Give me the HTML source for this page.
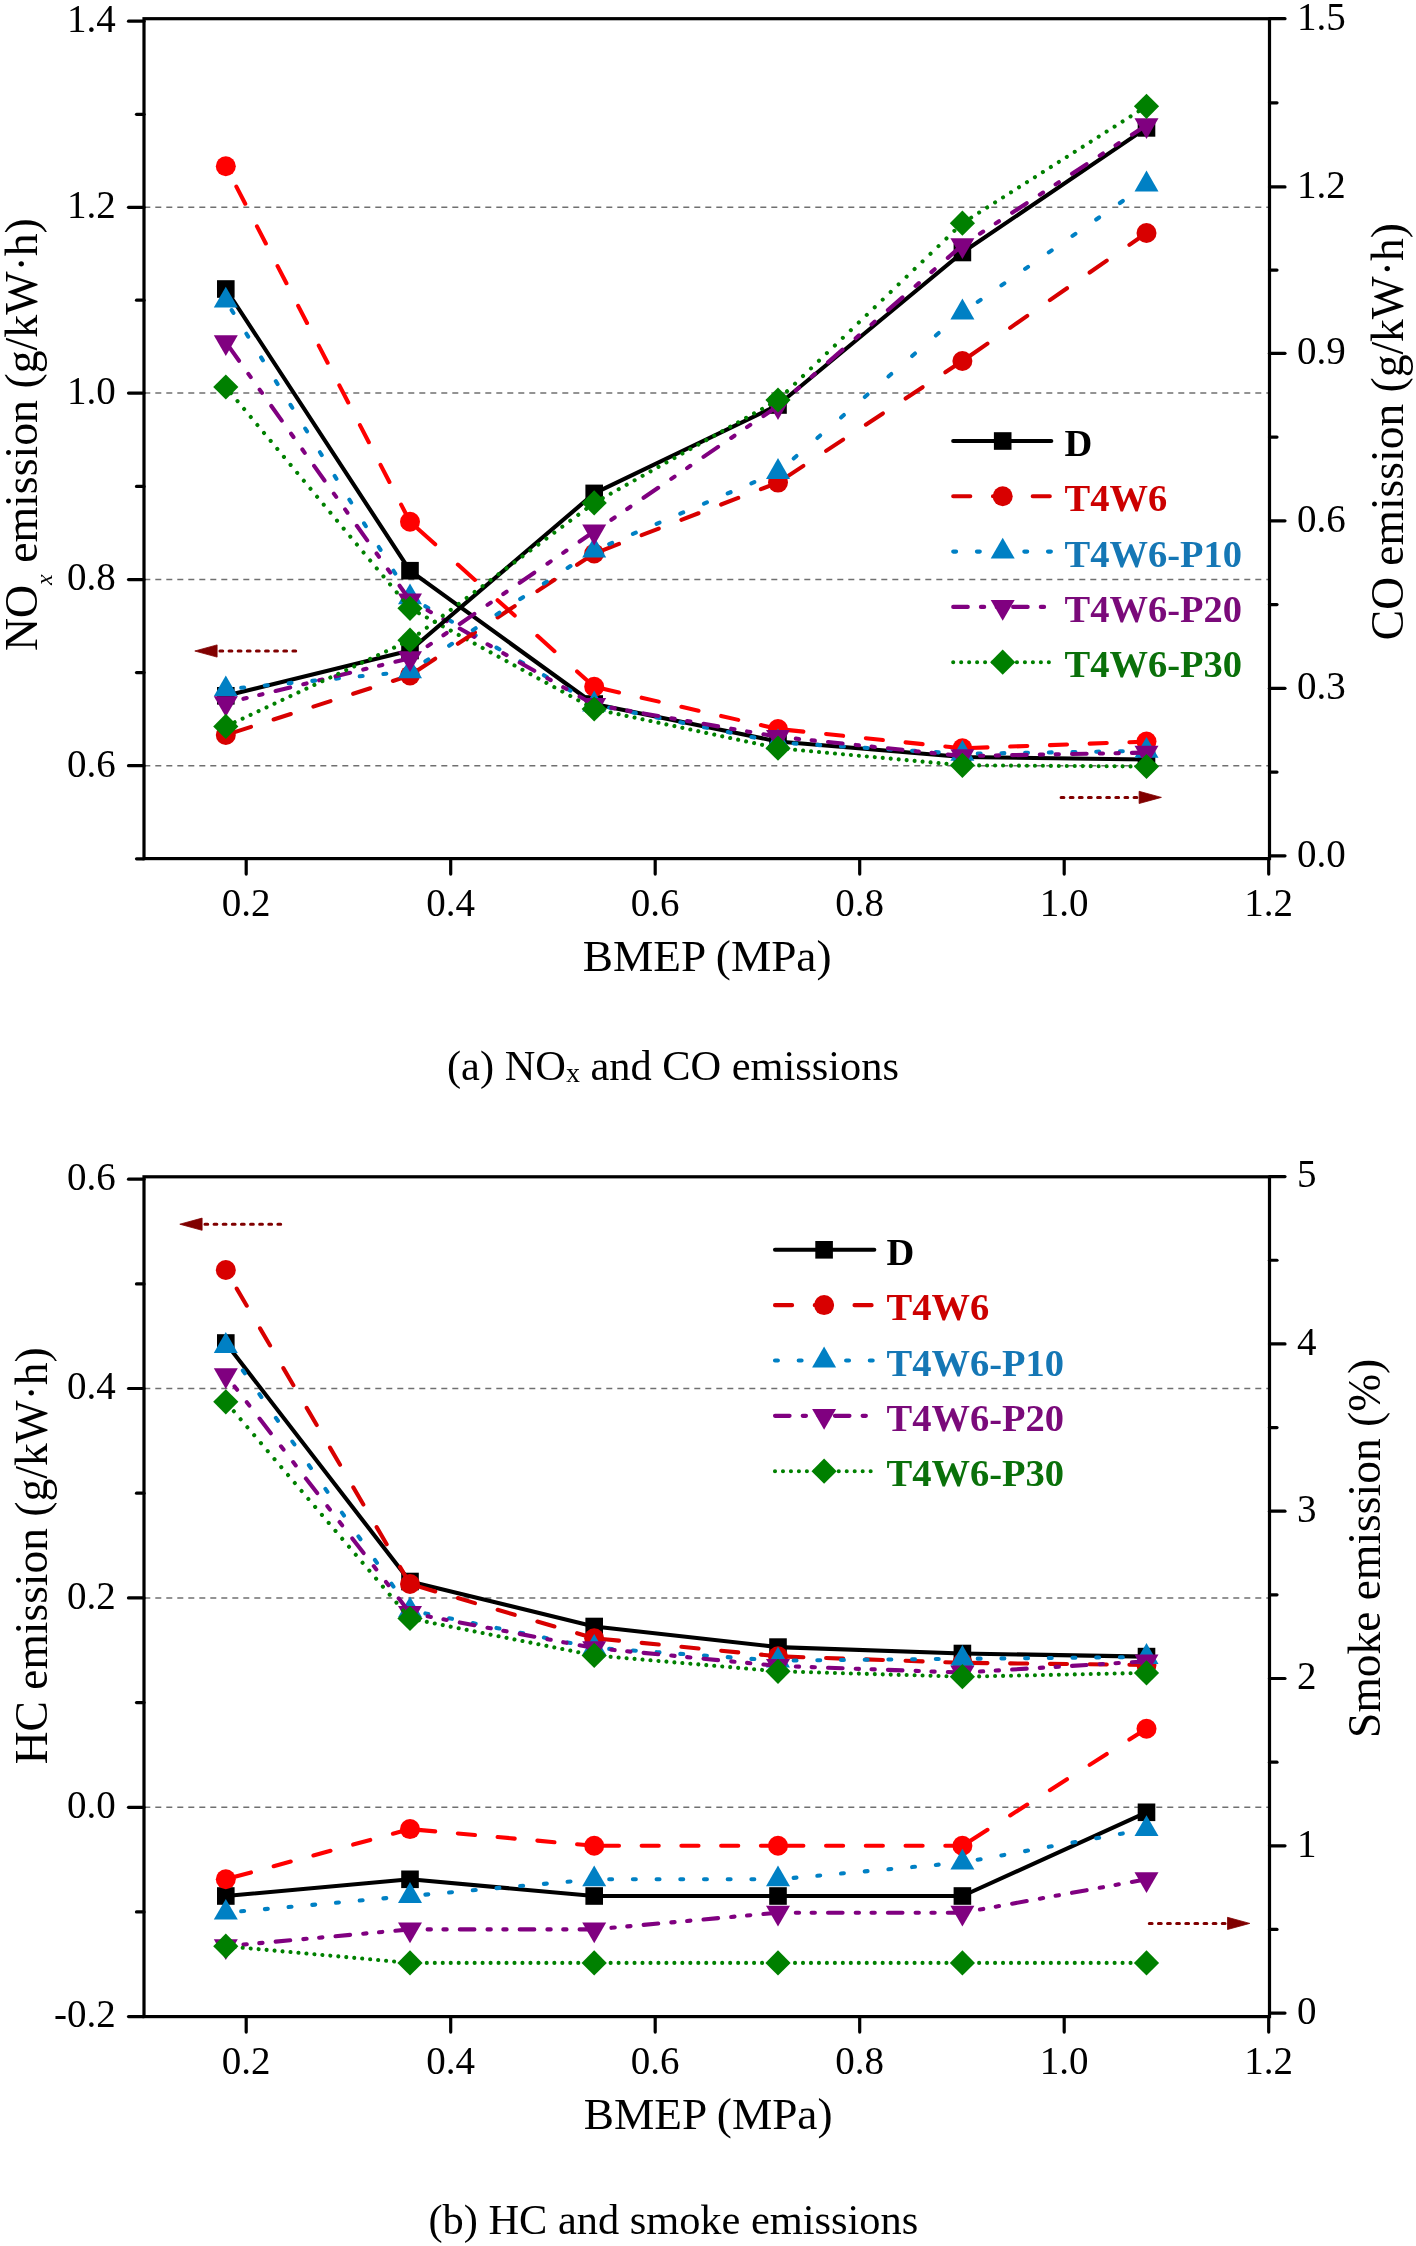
<!DOCTYPE html><html><head><meta charset="utf-8"><style>html,body{margin:0;padding:0;background:#fff;overflow:hidden;}svg{display:block;will-change:transform;}text{font-family:"Liberation Serif",serif;}</style></head><body>
<svg width="1416" height="2246" viewBox="0 0 1416 2246">
<rect width="1416" height="2246" fill="#fff"/>
<line x1="144.3" y1="207.3" x2="1268.0" y2="207.3" stroke="#707070" stroke-width="1.5" stroke-dasharray="6 5"/>
<line x1="144.3" y1="393.1" x2="1268.0" y2="393.1" stroke="#707070" stroke-width="1.5" stroke-dasharray="6 5"/>
<line x1="144.3" y1="579.6" x2="1268.0" y2="579.6" stroke="#707070" stroke-width="1.5" stroke-dasharray="6 5"/>
<line x1="144.3" y1="765.7" x2="1268.0" y2="765.7" stroke="#707070" stroke-width="1.5" stroke-dasharray="6 5"/>
<polyline points="225.8,289.0 410.0,570.7 594.2,704.0 778.0,741.5 962.4,757.0 1146.5,759.5" fill="none" stroke="#000000" stroke-width="4.1" stroke-linejoin="round" stroke-linecap="round"/><rect x="217.0" y="280.2" width="17.6" height="17.6" fill="#000000"/><rect x="401.2" y="561.9" width="17.6" height="17.6" fill="#000000"/><rect x="585.4" y="695.2" width="17.6" height="17.6" fill="#000000"/><rect x="769.2" y="732.7" width="17.6" height="17.6" fill="#000000"/><rect x="953.6" y="748.2" width="17.6" height="17.6" fill="#000000"/><rect x="1137.7" y="750.7" width="17.6" height="17.6" fill="#000000"/>
<line x1="410.0" y1="521.7" x2="225.8" y2="166.2" stroke="#ff0000" stroke-width="4.1" stroke-linecap="round" stroke-dasharray="19.26 25.51"/><line x1="594.2" y1="686.8" x2="410.0" y2="521.7" stroke="#ff0000" stroke-width="4.1" stroke-linecap="round" stroke-dasharray="22.96 30.42"/><line x1="778.0" y1="729.0" x2="594.2" y2="686.8" stroke="#ff0000" stroke-width="4.1" stroke-linecap="round" stroke-dasharray="17.54 23.24"/><line x1="962.4" y1="748.3" x2="778.0" y2="729.0" stroke="#ff0000" stroke-width="4.1" stroke-linecap="round" stroke-dasharray="17.19 22.77"/><line x1="1146.5" y1="741.6" x2="962.4" y2="748.3" stroke="#ff0000" stroke-width="4.1" stroke-linecap="round" stroke-dasharray="17.11 22.66"/><circle cx="225.8" cy="166.2" r="10.0" fill="#ff0000"/><circle cx="410.0" cy="521.7" r="10.0" fill="#ff0000"/><circle cx="594.2" cy="686.8" r="10.0" fill="#ff0000"/><circle cx="778.0" cy="729.0" r="10.0" fill="#ff0000"/><circle cx="962.4" cy="748.3" r="10.0" fill="#ff0000"/><circle cx="1146.5" cy="741.6" r="10.0" fill="#ff0000"/>
<line x1="410.0" y1="597.3" x2="225.8" y2="300.6" stroke="#0080c4" stroke-width="4.1" stroke-linecap="round" stroke-dasharray="3.41 24.48"/><line x1="594.2" y1="704.5" x2="410.0" y2="597.3" stroke="#0080c4" stroke-width="4.1" stroke-linecap="round" stroke-dasharray="3.36 24.07"/><line x1="778.0" y1="742.5" x2="594.2" y2="704.5" stroke="#0080c4" stroke-width="4.1" stroke-linecap="round" stroke-dasharray="2.96 21.24"/><line x1="962.4" y1="753.8" x2="778.0" y2="742.5" stroke="#0080c4" stroke-width="4.1" stroke-linecap="round" stroke-dasharray="2.91 20.84"/><line x1="1146.5" y1="750.9" x2="962.4" y2="753.8" stroke="#0080c4" stroke-width="4.1" stroke-linecap="round" stroke-dasharray="2.90 20.80"/><path d="M225.8 286.7L237.8 307.5L213.8 307.5Z" fill="#0080c4"/><path d="M410.0 583.4L422.0 604.2L398.0 604.2Z" fill="#0080c4"/><path d="M594.2 690.6L606.2 711.4L582.2 711.4Z" fill="#0080c4"/><path d="M778.0 728.6L790.0 749.4L766.0 749.4Z" fill="#0080c4"/><path d="M962.4 739.9L974.4 760.7L950.4 760.7Z" fill="#0080c4"/><path d="M1146.5 737.0L1158.5 757.8L1134.5 757.8Z" fill="#0080c4"/>
<line x1="410.0" y1="600.3" x2="225.8" y2="342.2" stroke="#800080" stroke-width="4.1" stroke-linecap="round" stroke-dasharray="17.94 16.09 4.05 15.36 4.05 16.09"/><line x1="594.2" y1="704.8" x2="410.0" y2="600.3" stroke="#800080" stroke-width="4.1" stroke-linecap="round" stroke-dasharray="16.79 15.06 3.79 14.37 3.79 15.06"/><line x1="778.0" y1="736.8" x2="594.2" y2="704.8" stroke="#800080" stroke-width="4.1" stroke-linecap="round" stroke-dasharray="14.82 13.30 3.35 12.69 3.35 13.30"/><line x1="962.4" y1="756.1" x2="778.0" y2="736.8" stroke="#800080" stroke-width="4.1" stroke-linecap="round" stroke-dasharray="14.68 13.17 3.32 12.57 3.32 13.17"/><line x1="1146.5" y1="752.6" x2="962.4" y2="756.1" stroke="#800080" stroke-width="4.1" stroke-linecap="round" stroke-dasharray="14.60 13.10 3.30 12.50 3.30 13.10"/><path d="M225.8 356.1L237.8 335.3L213.8 335.3Z" fill="#800080"/><path d="M410.0 614.2L422.0 593.4L398.0 593.4Z" fill="#800080"/><path d="M594.2 718.7L606.2 697.9L582.2 697.9Z" fill="#800080"/><path d="M778.0 750.7L790.0 729.9L766.0 729.9Z" fill="#800080"/><path d="M962.4 770.0L974.4 749.2L950.4 749.2Z" fill="#800080"/><path d="M1146.5 766.5L1158.5 745.7L1134.5 745.7Z" fill="#800080"/>
<line x1="410.0" y1="608.3" x2="225.8" y2="387.0" stroke="#008000" stroke-width="4.1" stroke-linecap="round" stroke-dasharray="0.01 10.36"/><line x1="594.2" y1="709.0" x2="410.0" y2="608.3" stroke="#008000" stroke-width="4.1" stroke-linecap="round" stroke-dasharray="0.01 9.07"/><line x1="778.0" y1="748.2" x2="594.2" y2="709.0" stroke="#008000" stroke-width="4.1" stroke-linecap="round" stroke-dasharray="0.01 8.14"/><line x1="962.4" y1="765.3" x2="778.0" y2="748.2" stroke="#008000" stroke-width="4.1" stroke-linecap="round" stroke-dasharray="0.01 7.99"/><line x1="1146.5" y1="766.5" x2="962.4" y2="765.3" stroke="#008000" stroke-width="4.1" stroke-linecap="round" stroke-dasharray="0.01 7.96"/><path d="M225.8 374.4L238.4 387.0L225.8 399.6L213.2 387.0Z" fill="#008000"/><path d="M410.0 595.7L422.6 608.3L410.0 620.9L397.4 608.3Z" fill="#008000"/><path d="M594.2 696.4L606.8 709.0L594.2 721.6L581.6 709.0Z" fill="#008000"/><path d="M778.0 735.6L790.6 748.2L778.0 760.8L765.4 748.2Z" fill="#008000"/><path d="M962.4 752.7L975.0 765.3L962.4 777.9L949.8 765.3Z" fill="#008000"/><path d="M1146.5 753.9L1159.1 766.5L1146.5 779.1L1133.9 766.5Z" fill="#008000"/>
<polyline points="225.8,695.8 410.0,650.5 594.2,493.4 778.0,405.0 962.4,252.5 1146.5,127.9" fill="none" stroke="#000000" stroke-width="4.1" stroke-linejoin="round" stroke-linecap="round"/><rect x="217.0" y="687.0" width="17.6" height="17.6" fill="#000000"/><rect x="401.2" y="641.7" width="17.6" height="17.6" fill="#000000"/><rect x="585.4" y="484.6" width="17.6" height="17.6" fill="#000000"/><rect x="769.2" y="396.2" width="17.6" height="17.6" fill="#000000"/><rect x="953.6" y="243.7" width="17.6" height="17.6" fill="#000000"/><rect x="1137.7" y="119.1" width="17.6" height="17.6" fill="#000000"/>
<line x1="410.0" y1="675.4" x2="225.8" y2="735.0" stroke="#d80000" stroke-width="4.1" stroke-linecap="round" stroke-dasharray="17.97 23.81"/><line x1="594.2" y1="553.5" x2="410.0" y2="675.4" stroke="#d80000" stroke-width="4.1" stroke-linecap="round" stroke-dasharray="20.51 27.16"/><line x1="778.0" y1="482.6" x2="594.2" y2="553.5" stroke="#d80000" stroke-width="4.1" stroke-linecap="round" stroke-dasharray="18.33 24.28"/><line x1="962.4" y1="361.0" x2="778.0" y2="482.6" stroke="#d80000" stroke-width="4.1" stroke-linecap="round" stroke-dasharray="20.48 27.13"/><line x1="1146.5" y1="233.0" x2="962.4" y2="361.0" stroke="#d80000" stroke-width="4.1" stroke-linecap="round" stroke-dasharray="20.83 27.59"/><circle cx="225.8" cy="735.0" r="10.0" fill="#d80000"/><circle cx="410.0" cy="675.4" r="10.0" fill="#d80000"/><circle cx="594.2" cy="553.5" r="10.0" fill="#d80000"/><circle cx="778.0" cy="482.6" r="10.0" fill="#d80000"/><circle cx="962.4" cy="361.0" r="10.0" fill="#d80000"/><circle cx="1146.5" cy="233.0" r="10.0" fill="#d80000"/>
<line x1="410.0" y1="671.4" x2="225.8" y2="689.3" stroke="#0080c4" stroke-width="4.1" stroke-linecap="round" stroke-dasharray="2.91 20.90"/><line x1="594.2" y1="550.5" x2="410.0" y2="671.4" stroke="#0080c4" stroke-width="4.1" stroke-linecap="round" stroke-dasharray="3.47 24.88"/><line x1="778.0" y1="472.0" x2="594.2" y2="550.5" stroke="#0080c4" stroke-width="4.1" stroke-linecap="round" stroke-dasharray="3.15 22.62"/><line x1="962.4" y1="312.5" x2="778.0" y2="472.0" stroke="#0080c4" stroke-width="4.1" stroke-linecap="round" stroke-dasharray="3.83 27.50"/><line x1="1146.5" y1="184.5" x2="962.4" y2="312.5" stroke="#0080c4" stroke-width="4.1" stroke-linecap="round" stroke-dasharray="3.53 25.33"/><path d="M225.8 675.4L237.8 696.2L213.8 696.2Z" fill="#0080c4"/><path d="M410.0 657.5L422.0 678.3L398.0 678.3Z" fill="#0080c4"/><path d="M594.2 536.6L606.2 557.4L582.2 557.4Z" fill="#0080c4"/><path d="M778.0 458.1L790.0 478.9L766.0 478.9Z" fill="#0080c4"/><path d="M962.4 298.6L974.4 319.4L950.4 319.4Z" fill="#0080c4"/><path d="M1146.5 170.6L1158.5 191.4L1134.5 191.4Z" fill="#0080c4"/>
<line x1="410.0" y1="658.2" x2="225.8" y2="703.1" stroke="#800080" stroke-width="4.1" stroke-linecap="round" stroke-dasharray="15.03 13.48 3.40 12.87 3.40 13.48"/><line x1="594.2" y1="531.5" x2="410.0" y2="658.2" stroke="#800080" stroke-width="4.1" stroke-linecap="round" stroke-dasharray="17.72 15.90 4.01 15.17 4.01 15.90"/><line x1="778.0" y1="406.0" x2="594.2" y2="531.5" stroke="#800080" stroke-width="4.1" stroke-linecap="round" stroke-dasharray="17.68 15.86 4.00 15.14 4.00 15.86"/><line x1="962.4" y1="245.1" x2="778.0" y2="406.0" stroke="#800080" stroke-width="4.1" stroke-linecap="round" stroke-dasharray="19.38 17.39 4.38 16.59 4.38 17.39"/><line x1="1146.5" y1="125.2" x2="962.4" y2="245.1" stroke="#800080" stroke-width="4.1" stroke-linecap="round" stroke-dasharray="17.42 15.63 3.94 14.92 3.94 15.63"/><path d="M225.8 717.0L237.8 696.2L213.8 696.2Z" fill="#800080"/><path d="M410.0 672.1L422.0 651.3L398.0 651.3Z" fill="#800080"/><path d="M594.2 545.4L606.2 524.6L582.2 524.6Z" fill="#800080"/><path d="M778.0 419.9L790.0 399.1L766.0 399.1Z" fill="#800080"/><path d="M962.4 259.0L974.4 238.2L950.4 238.2Z" fill="#800080"/><path d="M1146.5 139.1L1158.5 118.3L1134.5 118.3Z" fill="#800080"/>
<line x1="410.0" y1="640.2" x2="225.8" y2="726.4" stroke="#008000" stroke-width="4.1" stroke-linecap="round" stroke-dasharray="0.01 8.79"/><line x1="594.2" y1="502.9" x2="410.0" y2="640.2" stroke="#008000" stroke-width="4.1" stroke-linecap="round" stroke-dasharray="0.01 9.93"/><line x1="778.0" y1="400.0" x2="594.2" y2="502.9" stroke="#008000" stroke-width="4.1" stroke-linecap="round" stroke-dasharray="0.01 9.12"/><line x1="962.4" y1="223.2" x2="778.0" y2="400.0" stroke="#008000" stroke-width="4.1" stroke-linecap="round" stroke-dasharray="0.01 11.03"/><line x1="1146.5" y1="106.3" x2="962.4" y2="223.2" stroke="#008000" stroke-width="4.1" stroke-linecap="round" stroke-dasharray="0.01 9.43"/><path d="M225.8 713.8L238.4 726.4L225.8 739.0L213.2 726.4Z" fill="#008000"/><path d="M410.0 627.6L422.6 640.2L410.0 652.8L397.4 640.2Z" fill="#008000"/><path d="M594.2 490.3L606.8 502.9L594.2 515.5L581.6 502.9Z" fill="#008000"/><path d="M778.0 387.4L790.6 400.0L778.0 412.6L765.4 400.0Z" fill="#008000"/><path d="M962.4 210.6L975.0 223.2L962.4 235.8L949.8 223.2Z" fill="#008000"/><path d="M1146.5 93.7L1159.1 106.3L1146.5 118.9L1133.9 106.3Z" fill="#008000"/>
<rect x="144.0" y="18.7" width="1125.5" height="839.9" fill="none" stroke="#000" stroke-width="3.2"/><line x1="144.0" y1="21.2" x2="128.5" y2="21.2" stroke="#000" stroke-width="3.2" stroke-linecap="round"/><line x1="144.0" y1="207.3" x2="128.5" y2="207.3" stroke="#000" stroke-width="3.2" stroke-linecap="round"/><line x1="144.0" y1="393.1" x2="128.5" y2="393.1" stroke="#000" stroke-width="3.2" stroke-linecap="round"/><line x1="144.0" y1="579.6" x2="128.5" y2="579.6" stroke="#000" stroke-width="3.2" stroke-linecap="round"/><line x1="144.0" y1="765.7" x2="128.5" y2="765.7" stroke="#000" stroke-width="3.2" stroke-linecap="round"/><line x1="144.0" y1="114.3" x2="136.5" y2="114.3" stroke="#000" stroke-width="3.2" stroke-linecap="round"/><line x1="144.0" y1="300.2" x2="136.5" y2="300.2" stroke="#000" stroke-width="3.2" stroke-linecap="round"/><line x1="144.0" y1="486.4" x2="136.5" y2="486.4" stroke="#000" stroke-width="3.2" stroke-linecap="round"/><line x1="144.0" y1="672.6" x2="136.5" y2="672.6" stroke="#000" stroke-width="3.2" stroke-linecap="round"/><line x1="144.0" y1="858.8" x2="136.5" y2="858.8" stroke="#000" stroke-width="3.2" stroke-linecap="round"/><line x1="1269.5" y1="18.7" x2="1285.0" y2="18.7" stroke="#000" stroke-width="3.2" stroke-linecap="round"/><line x1="1269.5" y1="186.9" x2="1285.0" y2="186.9" stroke="#000" stroke-width="3.2" stroke-linecap="round"/><line x1="1269.5" y1="353.3" x2="1285.0" y2="353.3" stroke="#000" stroke-width="3.2" stroke-linecap="round"/><line x1="1269.5" y1="520.8" x2="1285.0" y2="520.8" stroke="#000" stroke-width="3.2" stroke-linecap="round"/><line x1="1269.5" y1="688.3" x2="1285.0" y2="688.3" stroke="#000" stroke-width="3.2" stroke-linecap="round"/><line x1="1269.5" y1="855.8" x2="1285.0" y2="855.8" stroke="#000" stroke-width="3.2" stroke-linecap="round"/><line x1="1269.5" y1="102.8" x2="1277.0" y2="102.8" stroke="#000" stroke-width="3.2" stroke-linecap="round"/><line x1="1269.5" y1="270.1" x2="1277.0" y2="270.1" stroke="#000" stroke-width="3.2" stroke-linecap="round"/><line x1="1269.5" y1="437.1" x2="1277.0" y2="437.1" stroke="#000" stroke-width="3.2" stroke-linecap="round"/><line x1="1269.5" y1="604.6" x2="1277.0" y2="604.6" stroke="#000" stroke-width="3.2" stroke-linecap="round"/><line x1="1269.5" y1="772.1" x2="1277.0" y2="772.1" stroke="#000" stroke-width="3.2" stroke-linecap="round"/><line x1="246.2" y1="858.6" x2="246.2" y2="874.1" stroke="#000" stroke-width="3.2" stroke-linecap="round"/><line x1="450.7" y1="858.6" x2="450.7" y2="874.1" stroke="#000" stroke-width="3.2" stroke-linecap="round"/><line x1="655.2" y1="858.6" x2="655.2" y2="874.1" stroke="#000" stroke-width="3.2" stroke-linecap="round"/><line x1="859.7" y1="858.6" x2="859.7" y2="874.1" stroke="#000" stroke-width="3.2" stroke-linecap="round"/><line x1="1064.2" y1="858.6" x2="1064.2" y2="874.1" stroke="#000" stroke-width="3.2" stroke-linecap="round"/><line x1="1268.7" y1="858.6" x2="1268.7" y2="874.1" stroke="#000" stroke-width="3.2" stroke-linecap="round"/>
<text x="115.8" y="32.0" font-size="39" text-anchor="end">1.4</text>
<text x="115.8" y="218.1" font-size="39" text-anchor="end">1.2</text>
<text x="115.8" y="403.9" font-size="39" text-anchor="end">1.0</text>
<text x="115.8" y="590.4" font-size="39" text-anchor="end">0.8</text>
<text x="115.8" y="776.5" font-size="39" text-anchor="end">0.6</text>
<text x="1297" y="29.5" font-size="39">1.5</text>
<text x="1297" y="197.7" font-size="39">1.2</text>
<text x="1297" y="364.1" font-size="39">0.9</text>
<text x="1297" y="531.6" font-size="39">0.6</text>
<text x="1297" y="699.1" font-size="39">0.3</text>
<text x="1297" y="866.6" font-size="39">0.0</text>
<text x="246.2" y="916.3" font-size="39" text-anchor="middle">0.2</text>
<text x="450.7" y="916.3" font-size="39" text-anchor="middle">0.4</text>
<text x="655.2" y="916.3" font-size="39" text-anchor="middle">0.6</text>
<text x="859.7" y="916.3" font-size="39" text-anchor="middle">0.8</text>
<text x="1064.2" y="916.3" font-size="39" text-anchor="middle">1.0</text>
<text x="1268.7" y="916.3" font-size="39" text-anchor="middle">1.2</text>
<text x="707.2" y="971" font-size="45.3" text-anchor="middle">BMEP (MPa)</text>
<text transform="translate(37.2,434.65) rotate(-90)" font-size="45.8" text-anchor="middle">NO<tspan font-size="24" font-style="italic" dy="15">x</tspan><tspan dy="-15"> emission (g/kW·h)</tspan></text>
<text transform="translate(1402.9,431.7) rotate(-90)" font-size="45.5" text-anchor="middle">CO emission (g/kW·h)</text>
<text x="673" y="1079.7" font-size="42.4" text-anchor="middle">(a) NO<tspan font-size="28" dy="2">x</tspan><tspan dy="-2"> and CO emissions</tspan></text>
<line x1="295.7" y1="651" x2="217.10000000000002" y2="651" stroke="#800000" stroke-width="3" stroke-linecap="round" stroke-dasharray="2.8 6.32"/><path d="M194.8 651L217.10000000000002 644.9L217.10000000000002 657.1Z" fill="#800000" stroke="#800000" stroke-width="0.8" stroke-linejoin="round"/>
<line x1="1061.1" y1="797.4" x2="1139.1000000000001" y2="797.4" stroke="#800000" stroke-width="3" stroke-linecap="round" stroke-dasharray="2.8 6.32"/><path d="M1161.4 797.4L1139.1000000000001 791.3L1139.1000000000001 803.5Z" fill="#800000" stroke="#800000" stroke-width="0.8" stroke-linejoin="round"/>
<line x1="953.2" y1="441.0" x2="1051.3" y2="441.0" stroke="#000000" stroke-width="4.1" stroke-linecap="round"/><rect x="993.9" y="432.2" width="17.6" height="17.6" fill="#000000"/><text x="1064.5" y="456.1" font-size="38.5" font-weight="bold" fill="#000">D</text><line x1="953.2" y1="496.3" x2="1051.3" y2="496.3" stroke="#d80000" stroke-width="4.1" stroke-linecap="round" stroke-dasharray="17.1 22.65"/><circle cx="1002.7" cy="496.3" r="10.0" fill="#d80000"/><text x="1064.5" y="511.4" font-size="38.5" font-weight="bold" fill="#cc0000">T4W6</text><line x1="953.2" y1="551.6" x2="1051.3" y2="551.6" stroke="#0080c4" stroke-width="4.1" stroke-linecap="round" stroke-dasharray="2.9 20.8"/><path d="M1002.7 537.7L1014.7 558.5L990.7 558.5Z" fill="#0080c4"/><text x="1064.5" y="566.7" font-size="38.5" font-weight="bold" fill="#1577b5">T4W6-P10</text><line x1="953.2" y1="606.9" x2="1051.3" y2="606.9" stroke="#800080" stroke-width="4.1" stroke-linecap="round" stroke-dasharray="14.6 13.1 3.3 12.5 3.3 13.1"/><path d="M1002.7 620.8L1014.7 600.0L990.7 600.0Z" fill="#800080"/><text x="1064.5" y="622.0" font-size="38.5" font-weight="bold" fill="#7a0a7a">T4W6-P20</text><line x1="953.2" y1="662.2" x2="1051.3" y2="662.2" stroke="#008000" stroke-width="4.1" stroke-linecap="round" stroke-dasharray="0.01 7.96"/><path d="M1002.7 649.6L1015.3 662.2L1002.7 674.8L990.1 662.2Z" fill="#008000"/><text x="1064.5" y="677.3" font-size="38.5" font-weight="bold" fill="#0a700a">T4W6-P30</text>
<line x1="144.3" y1="1388.5" x2="1268.0" y2="1388.5" stroke="#707070" stroke-width="1.5" stroke-dasharray="6 5"/>
<line x1="144.3" y1="1597.9" x2="1268.0" y2="1597.9" stroke="#707070" stroke-width="1.5" stroke-dasharray="6 5"/>
<line x1="144.3" y1="1807.3" x2="1268.0" y2="1807.3" stroke="#707070" stroke-width="1.5" stroke-dasharray="6 5"/>
<polyline points="225.8,1343.0 410.0,1581.5 594.2,1626.5 778.0,1647.1 962.4,1653.5 1146.5,1656.6" fill="none" stroke="#000000" stroke-width="4.1" stroke-linejoin="round" stroke-linecap="round"/><rect x="217.0" y="1334.2" width="17.6" height="17.6" fill="#000000"/><rect x="401.2" y="1572.7" width="17.6" height="17.6" fill="#000000"/><rect x="585.4" y="1617.7" width="17.6" height="17.6" fill="#000000"/><rect x="769.2" y="1638.3" width="17.6" height="17.6" fill="#000000"/><rect x="953.6" y="1644.7" width="17.6" height="17.6" fill="#000000"/><rect x="1137.7" y="1647.8" width="17.6" height="17.6" fill="#000000"/>
<line x1="410.0" y1="1584.0" x2="225.8" y2="1270.0" stroke="#d80000" stroke-width="4.1" stroke-linecap="round" stroke-dasharray="19.83 26.26"/><line x1="594.2" y1="1638.2" x2="410.0" y2="1584.0" stroke="#d80000" stroke-width="4.1" stroke-linecap="round" stroke-dasharray="17.82 23.61"/><line x1="778.0" y1="1656.3" x2="594.2" y2="1638.2" stroke="#d80000" stroke-width="4.1" stroke-linecap="round" stroke-dasharray="17.18 22.76"/><line x1="962.4" y1="1662.8" x2="778.0" y2="1656.3" stroke="#d80000" stroke-width="4.1" stroke-linecap="round" stroke-dasharray="17.11 22.66"/><line x1="1146.5" y1="1665.0" x2="962.4" y2="1662.8" stroke="#d80000" stroke-width="4.1" stroke-linecap="round" stroke-dasharray="17.10 22.65"/><circle cx="225.8" cy="1270.0" r="10.0" fill="#d80000"/><circle cx="410.0" cy="1584.0" r="10.0" fill="#d80000"/><circle cx="594.2" cy="1638.2" r="10.0" fill="#d80000"/><circle cx="778.0" cy="1656.3" r="10.0" fill="#d80000"/><circle cx="962.4" cy="1662.8" r="10.0" fill="#d80000"/><circle cx="1146.5" cy="1665.0" r="10.0" fill="#d80000"/>
<line x1="410.0" y1="1610.3" x2="225.8" y2="1346.0" stroke="#0080c4" stroke-width="4.1" stroke-linecap="round" stroke-dasharray="3.53 25.35"/><line x1="594.2" y1="1647.8" x2="410.0" y2="1610.3" stroke="#0080c4" stroke-width="4.1" stroke-linecap="round" stroke-dasharray="2.96 21.23"/><line x1="778.0" y1="1660.7" x2="594.2" y2="1647.8" stroke="#0080c4" stroke-width="4.1" stroke-linecap="round" stroke-dasharray="2.91 20.85"/><line x1="962.4" y1="1658.8" x2="778.0" y2="1660.7" stroke="#0080c4" stroke-width="4.1" stroke-linecap="round" stroke-dasharray="2.90 20.80"/><line x1="1146.5" y1="1657.0" x2="962.4" y2="1658.8" stroke="#0080c4" stroke-width="4.1" stroke-linecap="round" stroke-dasharray="2.90 20.80"/><path d="M225.8 1332.1L237.8 1352.9L213.8 1352.9Z" fill="#0080c4"/><path d="M410.0 1596.4L422.0 1617.2L398.0 1617.2Z" fill="#0080c4"/><path d="M594.2 1633.9L606.2 1654.7L582.2 1654.7Z" fill="#0080c4"/><path d="M778.0 1646.8L790.0 1667.6L766.0 1667.6Z" fill="#0080c4"/><path d="M962.4 1644.9L974.4 1665.7L950.4 1665.7Z" fill="#0080c4"/><path d="M1146.5 1643.1L1158.5 1663.9L1134.5 1663.9Z" fill="#0080c4"/>
<line x1="410.0" y1="1612.9" x2="225.8" y2="1375.1" stroke="#800080" stroke-width="4.1" stroke-linecap="round" stroke-dasharray="18.47 16.57 4.17 15.81 4.17 16.57"/><line x1="594.2" y1="1648.1" x2="410.0" y2="1612.9" stroke="#800080" stroke-width="4.1" stroke-linecap="round" stroke-dasharray="14.86 13.34 3.36 12.73 3.36 13.34"/><line x1="778.0" y1="1665.9" x2="594.2" y2="1648.1" stroke="#800080" stroke-width="4.1" stroke-linecap="round" stroke-dasharray="14.67 13.16 3.32 12.56 3.32 13.16"/><line x1="962.4" y1="1672.6" x2="778.0" y2="1665.9" stroke="#800080" stroke-width="4.1" stroke-linecap="round" stroke-dasharray="14.61 13.11 3.30 12.51 3.30 13.11"/><line x1="1146.5" y1="1661.3" x2="962.4" y2="1672.6" stroke="#800080" stroke-width="4.1" stroke-linecap="round" stroke-dasharray="14.63 13.12 3.31 12.52 3.31 13.12"/><path d="M225.8 1389.0L237.8 1368.2L213.8 1368.2Z" fill="#800080"/><path d="M410.0 1626.8L422.0 1606.0L398.0 1606.0Z" fill="#800080"/><path d="M594.2 1662.0L606.2 1641.2L582.2 1641.2Z" fill="#800080"/><path d="M778.0 1679.8L790.0 1659.0L766.0 1659.0Z" fill="#800080"/><path d="M962.4 1686.5L974.4 1665.7L950.4 1665.7Z" fill="#800080"/><path d="M1146.5 1675.2L1158.5 1654.4L1134.5 1654.4Z" fill="#800080"/>
<line x1="410.0" y1="1618.5" x2="225.8" y2="1401.8" stroke="#008000" stroke-width="4.1" stroke-linecap="round" stroke-dasharray="0.01 10.45"/><line x1="594.2" y1="1655.4" x2="410.0" y2="1618.5" stroke="#008000" stroke-width="4.1" stroke-linecap="round" stroke-dasharray="0.01 8.12"/><line x1="778.0" y1="1671.3" x2="594.2" y2="1655.4" stroke="#008000" stroke-width="4.1" stroke-linecap="round" stroke-dasharray="0.01 7.99"/><line x1="962.4" y1="1676.7" x2="778.0" y2="1671.3" stroke="#008000" stroke-width="4.1" stroke-linecap="round" stroke-dasharray="0.01 7.96"/><line x1="1146.5" y1="1672.9" x2="962.4" y2="1676.7" stroke="#008000" stroke-width="4.1" stroke-linecap="round" stroke-dasharray="0.01 7.96"/><path d="M225.8 1389.2L238.4 1401.8L225.8 1414.4L213.2 1401.8Z" fill="#008000"/><path d="M410.0 1605.9L422.6 1618.5L410.0 1631.1L397.4 1618.5Z" fill="#008000"/><path d="M594.2 1642.8L606.8 1655.4L594.2 1668.0L581.6 1655.4Z" fill="#008000"/><path d="M778.0 1658.7L790.6 1671.3L778.0 1683.9L765.4 1671.3Z" fill="#008000"/><path d="M962.4 1664.1L975.0 1676.7L962.4 1689.3L949.8 1676.7Z" fill="#008000"/><path d="M1146.5 1660.3L1159.1 1672.9L1146.5 1685.5L1133.9 1672.9Z" fill="#008000"/>
<polyline points="225.8,1896.0 410.0,1879.3 594.2,1896.0 778.0,1896.0 962.4,1896.0 1146.5,1812.3" fill="none" stroke="#000000" stroke-width="4.1" stroke-linejoin="round" stroke-linecap="round"/><rect x="217.0" y="1887.2" width="17.6" height="17.6" fill="#000000"/><rect x="401.2" y="1870.5" width="17.6" height="17.6" fill="#000000"/><rect x="585.4" y="1887.2" width="17.6" height="17.6" fill="#000000"/><rect x="769.2" y="1887.2" width="17.6" height="17.6" fill="#000000"/><rect x="953.6" y="1887.2" width="17.6" height="17.6" fill="#000000"/><rect x="1137.7" y="1803.5" width="17.6" height="17.6" fill="#000000"/>
<line x1="410.0" y1="1829.1" x2="225.8" y2="1879.3" stroke="#ff0000" stroke-width="4.1" stroke-linecap="round" stroke-dasharray="17.72 23.48"/><line x1="594.2" y1="1845.8" x2="410.0" y2="1829.1" stroke="#ff0000" stroke-width="4.1" stroke-linecap="round" stroke-dasharray="17.17 22.74"/><line x1="778.0" y1="1845.8" x2="594.2" y2="1845.8" stroke="#ff0000" stroke-width="4.1" stroke-linecap="round" stroke-dasharray="17.10 22.65"/><line x1="962.4" y1="1845.8" x2="778.0" y2="1845.8" stroke="#ff0000" stroke-width="4.1" stroke-linecap="round" stroke-dasharray="17.10 22.65"/><line x1="1146.5" y1="1728.7" x2="962.4" y2="1845.8" stroke="#ff0000" stroke-width="4.1" stroke-linecap="round" stroke-dasharray="20.27 26.84"/><circle cx="225.8" cy="1879.3" r="10.0" fill="#ff0000"/><circle cx="410.0" cy="1829.1" r="10.0" fill="#ff0000"/><circle cx="594.2" cy="1845.8" r="10.0" fill="#ff0000"/><circle cx="778.0" cy="1845.8" r="10.0" fill="#ff0000"/><circle cx="962.4" cy="1845.8" r="10.0" fill="#ff0000"/><circle cx="1146.5" cy="1728.7" r="10.0" fill="#ff0000"/>
<line x1="410.0" y1="1896.0" x2="225.8" y2="1912.7" stroke="#0080c4" stroke-width="4.1" stroke-linecap="round" stroke-dasharray="2.91 20.89"/><line x1="594.2" y1="1879.3" x2="410.0" y2="1896.0" stroke="#0080c4" stroke-width="4.1" stroke-linecap="round" stroke-dasharray="2.91 20.89"/><line x1="778.0" y1="1879.3" x2="594.2" y2="1879.3" stroke="#0080c4" stroke-width="4.1" stroke-linecap="round" stroke-dasharray="2.90 20.80"/><line x1="962.4" y1="1862.5" x2="778.0" y2="1879.3" stroke="#0080c4" stroke-width="4.1" stroke-linecap="round" stroke-dasharray="2.91 20.89"/><line x1="1146.5" y1="1829.1" x2="962.4" y2="1862.5" stroke="#0080c4" stroke-width="4.1" stroke-linecap="round" stroke-dasharray="2.95 21.14"/><path d="M225.8 1898.9L237.8 1919.6L213.8 1919.6Z" fill="#0080c4"/><path d="M410.0 1882.1L422.0 1902.9L398.0 1902.9Z" fill="#0080c4"/><path d="M594.2 1865.4L606.2 1886.2L582.2 1886.2Z" fill="#0080c4"/><path d="M778.0 1865.4L790.0 1886.2L766.0 1886.2Z" fill="#0080c4"/><path d="M962.4 1848.7L974.4 1869.5L950.4 1869.5Z" fill="#0080c4"/><path d="M1146.5 1815.2L1158.5 1836.0L1134.5 1836.0Z" fill="#0080c4"/>
<line x1="410.0" y1="1929.4" x2="225.8" y2="1946.2" stroke="#800080" stroke-width="4.1" stroke-linecap="round" stroke-dasharray="14.66 13.15 3.31 12.55 3.31 13.15"/><line x1="594.2" y1="1929.4" x2="410.0" y2="1929.4" stroke="#800080" stroke-width="4.1" stroke-linecap="round" stroke-dasharray="14.60 13.10 3.30 12.50 3.30 13.10"/><line x1="778.0" y1="1912.7" x2="594.2" y2="1929.4" stroke="#800080" stroke-width="4.1" stroke-linecap="round" stroke-dasharray="14.66 13.15 3.31 12.55 3.31 13.15"/><line x1="962.4" y1="1912.7" x2="778.0" y2="1912.7" stroke="#800080" stroke-width="4.1" stroke-linecap="round" stroke-dasharray="14.60 13.10 3.30 12.50 3.30 13.10"/><line x1="1146.5" y1="1879.3" x2="962.4" y2="1912.7" stroke="#800080" stroke-width="4.1" stroke-linecap="round" stroke-dasharray="14.84 13.31 3.35 12.70 3.35 13.31"/><path d="M225.8 1960.0L237.8 1939.3L213.8 1939.3Z" fill="#800080"/><path d="M410.0 1943.3L422.0 1922.5L398.0 1922.5Z" fill="#800080"/><path d="M594.2 1943.3L606.2 1922.5L582.2 1922.5Z" fill="#800080"/><path d="M778.0 1926.6L790.0 1905.8L766.0 1905.8Z" fill="#800080"/><path d="M962.4 1926.6L974.4 1905.8L950.4 1905.8Z" fill="#800080"/><path d="M1146.5 1893.1L1158.5 1872.3L1134.5 1872.3Z" fill="#800080"/>
<line x1="410.0" y1="1962.9" x2="225.8" y2="1946.2" stroke="#008000" stroke-width="4.1" stroke-linecap="round" stroke-dasharray="0.01 7.99"/><line x1="594.2" y1="1962.9" x2="410.0" y2="1962.9" stroke="#008000" stroke-width="4.1" stroke-linecap="round" stroke-dasharray="0.01 7.96"/><line x1="778.0" y1="1962.9" x2="594.2" y2="1962.9" stroke="#008000" stroke-width="4.1" stroke-linecap="round" stroke-dasharray="0.01 7.96"/><line x1="962.4" y1="1962.9" x2="778.0" y2="1962.9" stroke="#008000" stroke-width="4.1" stroke-linecap="round" stroke-dasharray="0.01 7.96"/><line x1="1146.5" y1="1962.9" x2="962.4" y2="1962.9" stroke="#008000" stroke-width="4.1" stroke-linecap="round" stroke-dasharray="0.01 7.96"/><path d="M225.8 1933.6L238.4 1946.2L225.8 1958.8L213.2 1946.2Z" fill="#008000"/><path d="M410.0 1950.3L422.6 1962.9L410.0 1975.5L397.4 1962.9Z" fill="#008000"/><path d="M594.2 1950.3L606.8 1962.9L594.2 1975.5L581.6 1962.9Z" fill="#008000"/><path d="M778.0 1950.3L790.6 1962.9L778.0 1975.5L765.4 1962.9Z" fill="#008000"/><path d="M962.4 1950.3L975.0 1962.9L962.4 1975.5L949.8 1962.9Z" fill="#008000"/><path d="M1146.5 1950.3L1159.1 1962.9L1146.5 1975.5L1133.9 1962.9Z" fill="#008000"/>
<rect x="144.0" y="1176.8" width="1125.5" height="839.8" fill="none" stroke="#000" stroke-width="3.2"/><line x1="144.0" y1="1179.2" x2="128.5" y2="1179.2" stroke="#000" stroke-width="3.2" stroke-linecap="round"/><line x1="144.0" y1="1388.5" x2="128.5" y2="1388.5" stroke="#000" stroke-width="3.2" stroke-linecap="round"/><line x1="144.0" y1="1597.9" x2="128.5" y2="1597.9" stroke="#000" stroke-width="3.2" stroke-linecap="round"/><line x1="144.0" y1="1807.3" x2="128.5" y2="1807.3" stroke="#000" stroke-width="3.2" stroke-linecap="round"/><line x1="144.0" y1="2016.6" x2="128.5" y2="2016.6" stroke="#000" stroke-width="3.2" stroke-linecap="round"/><line x1="144.0" y1="1283.9" x2="136.5" y2="1283.9" stroke="#000" stroke-width="3.2" stroke-linecap="round"/><line x1="144.0" y1="1493.2" x2="136.5" y2="1493.2" stroke="#000" stroke-width="3.2" stroke-linecap="round"/><line x1="144.0" y1="1702.6" x2="136.5" y2="1702.6" stroke="#000" stroke-width="3.2" stroke-linecap="round"/><line x1="144.0" y1="1911.9" x2="136.5" y2="1911.9" stroke="#000" stroke-width="3.2" stroke-linecap="round"/><line x1="1269.5" y1="1176.6" x2="1285.0" y2="1176.6" stroke="#000" stroke-width="3.2" stroke-linecap="round"/><line x1="1269.5" y1="1343.9" x2="1285.0" y2="1343.9" stroke="#000" stroke-width="3.2" stroke-linecap="round"/><line x1="1269.5" y1="1511.2" x2="1285.0" y2="1511.2" stroke="#000" stroke-width="3.2" stroke-linecap="round"/><line x1="1269.5" y1="1678.5" x2="1285.0" y2="1678.5" stroke="#000" stroke-width="3.2" stroke-linecap="round"/><line x1="1269.5" y1="1845.8" x2="1285.0" y2="1845.8" stroke="#000" stroke-width="3.2" stroke-linecap="round"/><line x1="1269.5" y1="2013.1" x2="1285.0" y2="2013.1" stroke="#000" stroke-width="3.2" stroke-linecap="round"/><line x1="1269.5" y1="1260.25" x2="1277.0" y2="1260.25" stroke="#000" stroke-width="3.2" stroke-linecap="round"/><line x1="1269.5" y1="1427.55" x2="1277.0" y2="1427.55" stroke="#000" stroke-width="3.2" stroke-linecap="round"/><line x1="1269.5" y1="1594.85" x2="1277.0" y2="1594.85" stroke="#000" stroke-width="3.2" stroke-linecap="round"/><line x1="1269.5" y1="1762.15" x2="1277.0" y2="1762.15" stroke="#000" stroke-width="3.2" stroke-linecap="round"/><line x1="1269.5" y1="1929.45" x2="1277.0" y2="1929.45" stroke="#000" stroke-width="3.2" stroke-linecap="round"/><line x1="246.2" y1="2016.6" x2="246.2" y2="2032.1" stroke="#000" stroke-width="3.2" stroke-linecap="round"/><line x1="450.7" y1="2016.6" x2="450.7" y2="2032.1" stroke="#000" stroke-width="3.2" stroke-linecap="round"/><line x1="655.2" y1="2016.6" x2="655.2" y2="2032.1" stroke="#000" stroke-width="3.2" stroke-linecap="round"/><line x1="859.7" y1="2016.6" x2="859.7" y2="2032.1" stroke="#000" stroke-width="3.2" stroke-linecap="round"/><line x1="1064.2" y1="2016.6" x2="1064.2" y2="2032.1" stroke="#000" stroke-width="3.2" stroke-linecap="round"/><line x1="1268.7" y1="2016.6" x2="1268.7" y2="2032.1" stroke="#000" stroke-width="3.2" stroke-linecap="round"/>
<text x="115.8" y="1190.0" font-size="39" text-anchor="end">0.6</text>
<text x="115.8" y="1399.3" font-size="39" text-anchor="end">0.4</text>
<text x="115.8" y="1608.7" font-size="39" text-anchor="end">0.2</text>
<text x="115.8" y="1818.1" font-size="39" text-anchor="end">0.0</text>
<text x="115.8" y="2027.4" font-size="39" text-anchor="end">-0.2</text>
<text x="1297" y="1187.4" font-size="39">5</text>
<text x="1297" y="1354.7" font-size="39">4</text>
<text x="1297" y="1522.0" font-size="39">3</text>
<text x="1297" y="1689.3" font-size="39">2</text>
<text x="1297" y="1856.6" font-size="39">1</text>
<text x="1297" y="2023.9" font-size="39">0</text>
<text x="246.2" y="2074" font-size="39" text-anchor="middle">0.2</text>
<text x="450.7" y="2074" font-size="39" text-anchor="middle">0.4</text>
<text x="655.2" y="2074" font-size="39" text-anchor="middle">0.6</text>
<text x="859.7" y="2074" font-size="39" text-anchor="middle">0.8</text>
<text x="1064.2" y="2074" font-size="39" text-anchor="middle">1.0</text>
<text x="1268.7" y="2074" font-size="39" text-anchor="middle">1.2</text>
<text x="708.2" y="2128.8" font-size="45.3" text-anchor="middle">BMEP (MPa)</text>
<text transform="translate(46.7,1555.85) rotate(-90)" font-size="45.5" text-anchor="middle">HC emission (g/kW·h)</text>
<text transform="translate(1379.9,1548.35) rotate(-90)" font-size="45.5" text-anchor="middle">Smoke emission (%)</text>
<text x="673.3" y="2233.9" font-size="42.4" text-anchor="middle">(b) HC and smoke emissions</text>
<line x1="280.7" y1="1224.2" x2="202.10000000000002" y2="1224.2" stroke="#800000" stroke-width="3" stroke-linecap="round" stroke-dasharray="2.8 6.32"/><path d="M179.8 1224.2L202.10000000000002 1218.1000000000001L202.10000000000002 1230.3Z" fill="#800000" stroke="#800000" stroke-width="0.8" stroke-linejoin="round"/>
<line x1="1149.3" y1="1923.4" x2="1227.5" y2="1923.4" stroke="#800000" stroke-width="3" stroke-linecap="round" stroke-dasharray="2.8 6.32"/><path d="M1249.8 1923.4L1227.5 1917.3000000000002L1227.5 1929.5Z" fill="#800000" stroke="#800000" stroke-width="0.8" stroke-linejoin="round"/>
<line x1="775" y1="1249.8" x2="874.3" y2="1249.8" stroke="#000000" stroke-width="4.1" stroke-linecap="round"/><rect x="815.3" y="1241.0" width="17.6" height="17.6" fill="#000000"/><text x="886.5" y="1264.9" font-size="38.5" font-weight="bold" fill="#000">D</text><line x1="775" y1="1305.1499999999999" x2="874.3" y2="1305.1499999999999" stroke="#d80000" stroke-width="4.1" stroke-linecap="round" stroke-dasharray="17.1 22.65"/><circle cx="824.1" cy="1305.1" r="10.0" fill="#d80000"/><text x="886.5" y="1320.2" font-size="38.5" font-weight="bold" fill="#cc0000">T4W6</text><line x1="775" y1="1360.5" x2="874.3" y2="1360.5" stroke="#0080c4" stroke-width="4.1" stroke-linecap="round" stroke-dasharray="2.9 20.8"/><path d="M824.1 1346.6L836.1 1367.4L812.1 1367.4Z" fill="#0080c4"/><text x="886.5" y="1375.6" font-size="38.5" font-weight="bold" fill="#1577b5">T4W6-P10</text><line x1="775" y1="1415.85" x2="874.3" y2="1415.85" stroke="#800080" stroke-width="4.1" stroke-linecap="round" stroke-dasharray="14.6 13.1 3.3 12.5 3.3 13.1"/><path d="M824.1 1429.7L836.1 1408.9L812.1 1408.9Z" fill="#800080"/><text x="886.5" y="1430.9" font-size="38.5" font-weight="bold" fill="#7a0a7a">T4W6-P20</text><line x1="775" y1="1471.2" x2="874.3" y2="1471.2" stroke="#008000" stroke-width="4.1" stroke-linecap="round" stroke-dasharray="0.01 7.96"/><path d="M824.1 1458.6L836.7 1471.2L824.1 1483.8L811.5 1471.2Z" fill="#008000"/><text x="886.5" y="1486.3" font-size="38.5" font-weight="bold" fill="#0a700a">T4W6-P30</text>
</svg></body></html>
